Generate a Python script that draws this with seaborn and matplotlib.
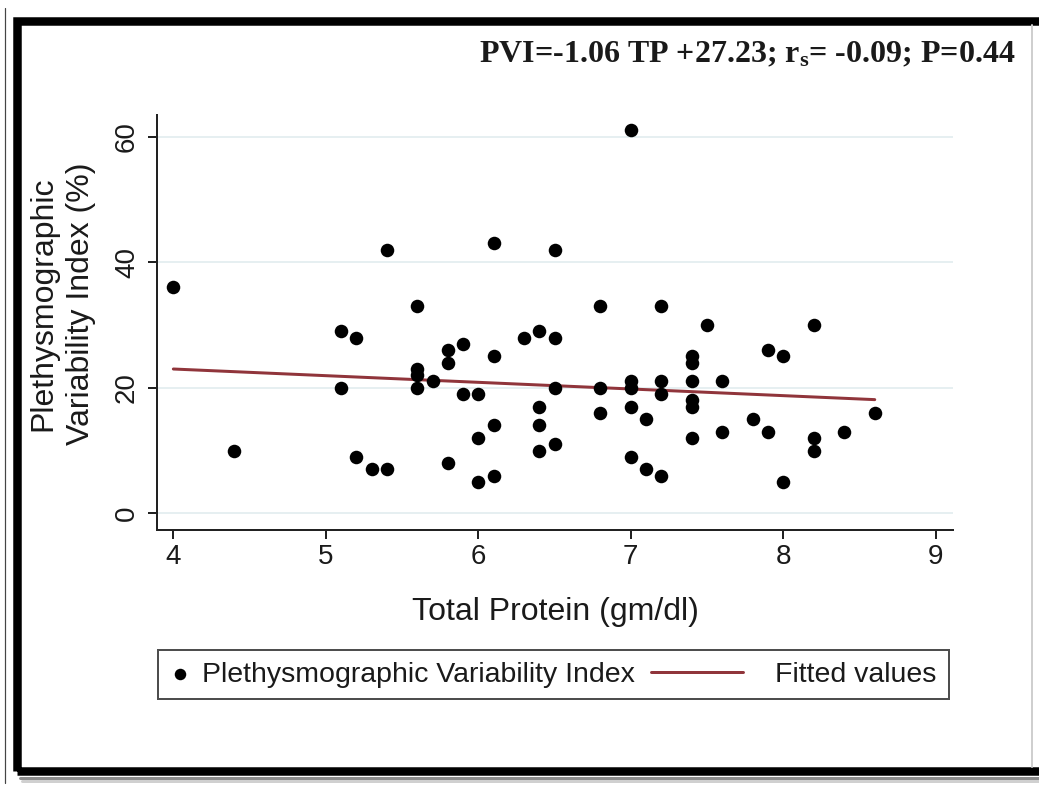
import matplotlib
matplotlib.use("Agg")
import numpy as np
import pandas as pd
import matplotlib.pyplot as plt
import seaborn as sns
from matplotlib.patches import Rectangle
from matplotlib.lines import Line2D
from matplotlib.legend_handler import HandlerLine2D

# ---------------- data ----------------
total_protein = [4.0, 4.4, 5.1, 5.1, 5.2, 5.2, 5.3, 5.4, 5.4, 5.6, 5.6, 5.6, 5.6,
                 5.7, 5.8, 5.8, 5.8, 5.9, 5.9, 6.0, 6.0, 6.0, 6.1, 6.1, 6.1, 6.1,
                 6.3, 6.4, 6.4, 6.4, 6.4, 6.5, 6.5, 6.5, 6.5, 6.8, 6.8, 6.8,
                 7.0, 7.0, 7.0, 7.0, 7.0, 7.1, 7.1, 7.2, 7.2, 7.2, 7.2,
                 7.4, 7.4, 7.4, 7.4, 7.4, 7.4, 7.5, 7.6, 7.6, 7.8, 7.9, 7.9,
                 8.0, 8.0, 8.2, 8.2, 8.2, 8.4, 8.6]
pvi = [36, 10, 29, 20, 28, 9, 7, 42, 7, 33, 23, 22, 20,
       21, 26, 24, 8, 27, 19, 19, 12, 5, 43, 25, 14, 6,
       28, 29, 17, 14, 10, 42, 28, 20, 11, 33, 20, 16,
       61, 21, 20, 17, 9, 15, 7, 33, 21, 19, 6,
       25, 24, 21, 18, 17, 12, 30, 21, 13, 15, 26, 13,
       25, 5, 30, 12, 10, 13, 16]
fit_x = [4.0, 8.6]
fit_y = [22.99, 18.11]

x_ticks = [4, 5, 6, 7, 8, 9]
y_ticks = [0, 20, 40, 60]
x_label = "Total Protein (gm/dl)"
y_label = "Plethysmographic\nVariability Index (%)"
legend_labels = ["Plethysmographic Variability Index", "Fitted values"]
title_text = r"PVI=-1.06 TP +27.23; r$_{\mathrm{s}}$= -0.09; P=0.44"

# ---------------- style ----------------
W, H = 1039, 789
sns.set_style("white")
plt.rcParams["font.family"] = ["Liberation Sans", "DejaVu Sans"]
plt.rcParams["mathtext.fontset"] = "custom"
plt.rcParams["mathtext.rm"] = "Liberation Serif:bold"
plt.rcParams["mathtext.it"] = "Liberation Serif:bold"
plt.rcParams["mathtext.bf"] = "Liberation Serif:bold"

def fx(px):
    return px / W

def fy(py):
    return 1 - py / H

PX = 0.72  # points per pixel at dpi 100

fig = plt.figure(figsize=(W / 100, H / 100), dpi=100)
fig.patch.set_facecolor("white")
ax = fig.add_axes([fx(157), fy(530), fx(953) - fx(157), fy(115) - fy(530)])
ax.set_facecolor("white")

df = pd.DataFrame({"tp": total_protein, "pvi": pvi})
fit_df = pd.DataFrame({"tp": fit_x, "pvi": fit_y})

ax.grid(axis="y", color="#e6eff1", lw=2 * PX, zorder=0)
ax.grid(axis="x", visible=False)
ax.set_axisbelow(True)

sns.scatterplot(data=df, x="tp", y="pvi", ax=ax, color="black", s=95,
                linewidth=0, label=legend_labels[0], zorder=3)
sns.lineplot(data=fit_df, x="tp", y="pvi", ax=ax, color="#90353b",
             lw=3 * PX, label=legend_labels[1], zorder=2)

ax.set_xlim(3.893, 9.113)
ax.set_ylim(-2.66, 63.46)
ax.set_xticks(x_ticks)
ax.set_yticks(y_ticks)
ax.set_xticklabels([str(t) for t in x_ticks])
ax.set_yticklabels([str(t) for t in y_ticks])

for s in ["top", "right"]:
    ax.spines[s].set_visible(False)
for s in ["left", "bottom"]:
    ax.spines[s].set_color("#222222")
    ax.spines[s].set_linewidth(2 * PX)

ax.tick_params(axis="both", direction="out", length=9 * PX, width=2 * PX,
               color="#222222", labelsize=20, labelcolor="#1a1a1a")
ax.tick_params(axis="x", pad=5 * PX, bottom=True)
ax.tick_params(axis="y", pad=8 * PX, labelrotation=90, left=True)
for lab in ax.get_yticklabels():
    lab.set_va("center")

ax.set_xlabel(x_label, fontsize=23, color="#1a1a1a")
ax.xaxis.set_label_coords(0.5, (530 - 612) / 415)
ax.xaxis.label.set_va("center")
ax.set_ylabel(y_label, fontsize=23, color="#1a1a1a", multialignment="center",
              linespacing=1.35)
ax.yaxis.label.set_va("center")
ax.yaxis.set_label_coords((62 - 157) / 796, (530 - 304) / 415)

# ---------------- legend ----------------
class LongLeftLine(HandlerLine2D):
    def __init__(self, start_px, end_px, **kw):
        super().__init__(**kw)
        self.start = start_px * PX
        self.end = end_px * PX

    def create_artists(self, legend, orig_handle, xdescent, ydescent,
                       width, height, fontsize, trans):
        y = (height - ydescent) / 2.0
        line = Line2D([-xdescent - self.start, -xdescent - self.end], [y, y])
        self.update_prop(line, orig_handle, legend)
        line.set_transform(trans)
        return [line]

handles, labels = ax.get_legend_handles_labels()
ax.get_legend().remove()
fs = 20.5
fpx = fs / PX
leg = fig.legend(handles, labels, ncol=2, loc="center",
                 bbox_to_anchor=(fx(553.5), fy(674.5)),
                 fontsize=fs, frameon=True, fancybox=False,
                 edgecolor="#222222", facecolor="white",
                 handlelength=20 / fpx, handletextpad=12 / fpx,
                 columnspacing=108 / fpx, borderpad=0.42,
                 borderaxespad=0, markerscale=0.85,
                 handler_map={handles[1]: LongLeftLine(92, 0)})
leg.get_frame().set_linewidth(2 * PX)
for t in leg.get_texts():
    t.set_color("#1a1a1a")

# ---------------- title ----------------
fig.text(fx(1015), fy(55), title_text, ha="right", va="center",
         fontsize=23, fontweight="bold", family="Liberation Serif",
         color="#1a1a1a")

# ---------------- frame ----------------
fig.add_artist(Line2D([fx(5), fx(5)], [fy(8), fy(783)], color="#444444",
                      lw=1.2 * PX, transform=fig.transFigure))
fig.add_artist(Line2D([fx(20), fx(1039)], [fy(777.5), fy(777.5)],
                      color="#8c8c8c", lw=3 * PX, transform=fig.transFigure))
fig.add_artist(Line2D([fx(22), fx(1039)], [fy(780.5), fy(780.5)],
                      color="#d0d0d0", lw=3 * PX, transform=fig.transFigure))
fig.add_artist(Line2D([fx(1032), fx(1032)], [fy(25), fy(767)],
                      color="#cfcfcf", lw=2 * PX, transform=fig.transFigure))
fig.add_artist(Rectangle((fx(17), fy(771)), fx(1060) - fx(17), fy(20.5) - fy(771),
                         fill=False, edgecolor="black", lw=8.5 * PX,
                         transform=fig.transFigure, clip_on=False))

fig.savefig("out.png", dpi=100, facecolor="white")
